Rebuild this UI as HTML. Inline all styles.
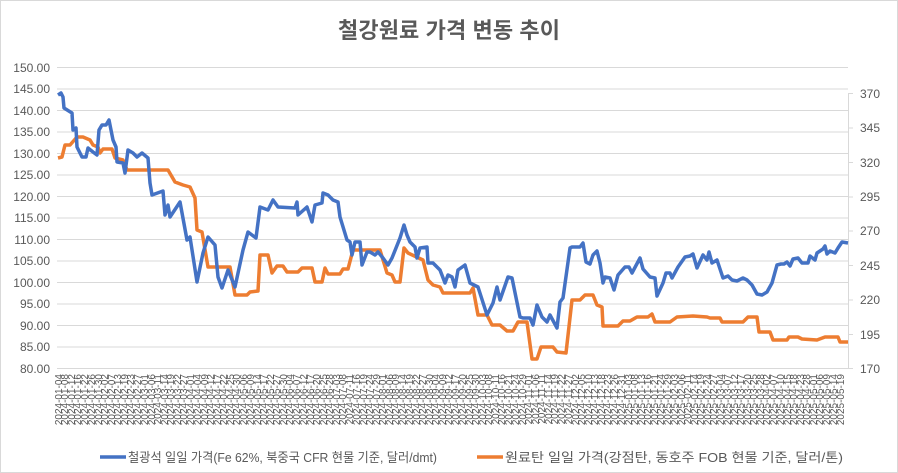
<!DOCTYPE html>
<html><head><meta charset="utf-8"><style>
html,body{margin:0;padding:0;background:#fff}
svg{display:block;font-family:"Liberation Sans","Noto Sans CJK KR",sans-serif}
</style></head><body>
<svg width="898" height="473" viewBox="0 0 898 473" xmlns="http://www.w3.org/2000/svg">
<rect x="0.5" y="0.5" width="897" height="472" fill="#fff" stroke="#d9d9d9"/>
<text x="449" y="38" text-anchor="middle" font-size="22" font-weight="bold" fill="#595959" textLength="222" font-family="'Liberation Sans','Noto Sans CJK KR',sans-serif">철강원료 가격 변동 추이</text>
<g stroke="#d9d9d9" stroke-width="1">
<line x1="57" x2="848" y1="67.5" y2="67.5"/><line x1="57" x2="848" y1="89" y2="89"/><line x1="57" x2="848" y1="110.5" y2="110.5"/><line x1="57" x2="848" y1="132" y2="132"/><line x1="57" x2="848" y1="153.5" y2="153.5"/><line x1="57" x2="848" y1="175" y2="175"/><line x1="57" x2="848" y1="196.5" y2="196.5"/><line x1="57" x2="848" y1="218" y2="218"/><line x1="57" x2="848" y1="239.5" y2="239.5"/><line x1="57" x2="848" y1="261" y2="261"/><line x1="57" x2="848" y1="282.5" y2="282.5"/><line x1="57" x2="848" y1="304" y2="304"/><line x1="57" x2="848" y1="325.5" y2="325.5"/><line x1="57" x2="848" y1="347" y2="347"/><line x1="57" x2="848" y1="368.5" y2="368.5"/>
<line x1="848.5" x2="848.5" y1="93" y2="369"/>
<line x1="848" x2="853" y1="93.5" y2="93.5"/><line x1="848" x2="853" y1="128" y2="128"/><line x1="848" x2="853" y1="162.5" y2="162.5"/><line x1="848" x2="853" y1="197" y2="197"/><line x1="848" x2="853" y1="231" y2="231"/><line x1="848" x2="853" y1="265.5" y2="265.5"/><line x1="848" x2="853" y1="300" y2="300"/><line x1="848" x2="853" y1="334.5" y2="334.5"/><line x1="848" x2="853" y1="368.5" y2="368.5"/>
</g>
<g font-size="12" fill="#595959" text-anchor="end">
<text x="50" y="72">150.00</text><text x="50" y="93">145.00</text><text x="50" y="115">140.00</text><text x="50" y="136">135.00</text><text x="50" y="158">130.00</text><text x="50" y="179">125.00</text><text x="50" y="201">120.00</text><text x="50" y="222">115.00</text><text x="50" y="244">110.00</text><text x="50" y="265">105.00</text><text x="50" y="287">100.00</text><text x="50" y="308">95.00</text><text x="50" y="330">90.00</text><text x="50" y="351">85.00</text><text x="50" y="373">80.00</text>
</g>
<g font-size="12" fill="#595959">
<text x="860" y="98">370</text><text x="860" y="132">345</text><text x="860" y="167">320</text><text x="860" y="201">295</text><text x="860" y="235">270</text><text x="860" y="270">245</text><text x="860" y="304">220</text><text x="860" y="339">195</text><text x="860" y="373">170</text>
</g>
<g font-size="10" fill="#595959" text-anchor="end">
<text transform="translate(62,374) rotate(-90)">2024-01-04</text>
<text transform="translate(68,374) rotate(-90)">2024-01-08</text>
<text transform="translate(75,374) rotate(-90)">2024-01-12</text>
<text transform="translate(81,374) rotate(-90)">2024-01-16</text>
<text transform="translate(88,374) rotate(-90)">2024-01-22</text>
<text transform="translate(95,374) rotate(-90)">2024-01-26</text>
<text transform="translate(102,374) rotate(-90)">2024-01-30</text>
<text transform="translate(108,374) rotate(-90)">2024-02-02</text>
<text transform="translate(115,374) rotate(-90)">2024-02-07</text>
<text transform="translate(121,374) rotate(-90)">2024-02-13</text>
<text transform="translate(128,374) rotate(-90)">2024-02-19</text>
<text transform="translate(134,374) rotate(-90)">2024-02-23</text>
<text transform="translate(141,374) rotate(-90)">2024-02-27</text>
<text transform="translate(148,374) rotate(-90)">2024-03-01</text>
<text transform="translate(155,374) rotate(-90)">2024-03-06</text>
<text transform="translate(161,374) rotate(-90)">2024-03-11</text>
<text transform="translate(168,374) rotate(-90)">2024-03-14</text>
<text transform="translate(174,374) rotate(-90)">2024-03-19</text>
<text transform="translate(181,374) rotate(-90)">2024-03-22</text>
<text transform="translate(187,374) rotate(-90)">2024-03-27</text>
<text transform="translate(194,374) rotate(-90)">2024-04-01</text>
<text transform="translate(201,374) rotate(-90)">2024-04-04</text>
<text transform="translate(208,374) rotate(-90)">2024-04-09</text>
<text transform="translate(214,374) rotate(-90)">2024-04-12</text>
<text transform="translate(221,374) rotate(-90)">2024-04-17</text>
<text transform="translate(227,374) rotate(-90)">2024-04-22</text>
<text transform="translate(234,374) rotate(-90)">2024-04-25</text>
<text transform="translate(240,374) rotate(-90)">2024-04-30</text>
<text transform="translate(247,374) rotate(-90)">2024-05-06</text>
<text transform="translate(254,374) rotate(-90)">2024-05-09</text>
<text transform="translate(261,374) rotate(-90)">2024-05-14</text>
<text transform="translate(267,374) rotate(-90)">2024-05-17</text>
<text transform="translate(274,374) rotate(-90)">2024-05-22</text>
<text transform="translate(280,374) rotate(-90)">2024-05-27</text>
<text transform="translate(287,374) rotate(-90)">2024-05-30</text>
<text transform="translate(293,374) rotate(-90)">2024-06-04</text>
<text transform="translate(300,374) rotate(-90)">2024-06-07</text>
<text transform="translate(307,374) rotate(-90)">2024-06-12</text>
<text transform="translate(314,374) rotate(-90)">2024-06-17</text>
<text transform="translate(320,374) rotate(-90)">2024-06-20</text>
<text transform="translate(327,374) rotate(-90)">2024-06-25</text>
<text transform="translate(333,374) rotate(-90)">2024-06-28</text>
<text transform="translate(340,374) rotate(-90)">2024-07-03</text>
<text transform="translate(346,374) rotate(-90)">2024-07-08</text>
<text transform="translate(353,374) rotate(-90)">2024-07-11</text>
<text transform="translate(360,374) rotate(-90)">2024-07-16</text>
<text transform="translate(367,374) rotate(-90)">2024-07-19</text>
<text transform="translate(373,374) rotate(-90)">2024-07-24</text>
<text transform="translate(380,374) rotate(-90)">2024-07-29</text>
<text transform="translate(386,374) rotate(-90)">2024-08-01</text>
<text transform="translate(393,374) rotate(-90)">2024-08-06</text>
<text transform="translate(399,374) rotate(-90)">2024-08-09</text>
<text transform="translate(406,374) rotate(-90)">2024-08-14</text>
<text transform="translate(413,374) rotate(-90)">2024-08-19</text>
<text transform="translate(420,374) rotate(-90)">2024-08-22</text>
<text transform="translate(426,374) rotate(-90)">2024-08-27</text>
<text transform="translate(433,374) rotate(-90)">2024-08-30</text>
<text transform="translate(439,374) rotate(-90)">2024-09-04</text>
<text transform="translate(446,374) rotate(-90)">2024-09-09</text>
<text transform="translate(452,374) rotate(-90)">2024-09-12</text>
<text transform="translate(459,374) rotate(-90)">2024-09-17</text>
<text transform="translate(466,374) rotate(-90)">2024-09-20</text>
<text transform="translate(473,374) rotate(-90)">2024-09-25</text>
<text transform="translate(479,374) rotate(-90)">2024-09-30</text>
<text transform="translate(486,374) rotate(-90)">2024-10-03</text>
<text transform="translate(492,374) rotate(-90)">2024-10-08</text>
<text transform="translate(499,374) rotate(-90)">2024-10-11</text>
<text transform="translate(505,374) rotate(-90)">2024-10-16</text>
<text transform="translate(512,374) rotate(-90)">2024-10-21</text>
<text transform="translate(519,374) rotate(-90)">2024-10-24</text>
<text transform="translate(526,374) rotate(-90)">2024-10-29</text>
<text transform="translate(532,374) rotate(-90)">2024-11-01</text>
<text transform="translate(539,374) rotate(-90)">2024-11-06</text>
<text transform="translate(545,374) rotate(-90)">2024-11-11</text>
<text transform="translate(552,374) rotate(-90)">2024-11-14</text>
<text transform="translate(558,374) rotate(-90)">2024-11-19</text>
<text transform="translate(565,374) rotate(-90)">2024-11-22</text>
<text transform="translate(572,374) rotate(-90)">2024-11-27</text>
<text transform="translate(579,374) rotate(-90)">2024-12-02</text>
<text transform="translate(585,374) rotate(-90)">2024-12-05</text>
<text transform="translate(592,374) rotate(-90)">2024-12-10</text>
<text transform="translate(598,374) rotate(-90)">2024-12-13</text>
<text transform="translate(605,374) rotate(-90)">2024-12-18</text>
<text transform="translate(611,374) rotate(-90)">2024-12-23</text>
<text transform="translate(618,374) rotate(-90)">2024-12-26</text>
<text transform="translate(625,374) rotate(-90)">2024-12-31</text>
<text transform="translate(632,374) rotate(-90)">2025-01-03</text>
<text transform="translate(638,374) rotate(-90)">2025-01-08</text>
<text transform="translate(645,374) rotate(-90)">2025-01-13</text>
<text transform="translate(651,374) rotate(-90)">2025-01-16</text>
<text transform="translate(658,374) rotate(-90)">2025-01-21</text>
<text transform="translate(664,374) rotate(-90)">2025-01-24</text>
<text transform="translate(671,374) rotate(-90)">2025-01-29</text>
<text transform="translate(678,374) rotate(-90)">2025-02-03</text>
<text transform="translate(685,374) rotate(-90)">2025-02-06</text>
<text transform="translate(691,374) rotate(-90)">2025-02-11</text>
<text transform="translate(698,374) rotate(-90)">2025-02-14</text>
<text transform="translate(704,374) rotate(-90)">2025-02-19</text>
<text transform="translate(711,374) rotate(-90)">2025-02-24</text>
<text transform="translate(717,374) rotate(-90)">2025-02-27</text>
<text transform="translate(724,374) rotate(-90)">2025-03-04</text>
<text transform="translate(731,374) rotate(-90)">2025-03-07</text>
<text transform="translate(738,374) rotate(-90)">2025-03-12</text>
<text transform="translate(744,374) rotate(-90)">2025-03-17</text>
<text transform="translate(751,374) rotate(-90)">2025-03-20</text>
<text transform="translate(757,374) rotate(-90)">2025-03-25</text>
<text transform="translate(764,374) rotate(-90)">2025-03-28</text>
<text transform="translate(770,374) rotate(-90)">2025-04-02</text>
<text transform="translate(777,374) rotate(-90)">2025-04-07</text>
<text transform="translate(784,374) rotate(-90)">2025-04-10</text>
<text transform="translate(791,374) rotate(-90)">2025-04-15</text>
<text transform="translate(797,374) rotate(-90)">2025-04-18</text>
<text transform="translate(804,374) rotate(-90)">2025-04-23</text>
<text transform="translate(810,374) rotate(-90)">2025-04-28</text>
<text transform="translate(817,374) rotate(-90)">2025-05-01</text>
<text transform="translate(823,374) rotate(-90)">2025-05-06</text>
<text transform="translate(830,374) rotate(-90)">2025-05-09</text>
<text transform="translate(837,374) rotate(-90)">2025-05-14</text>
<text transform="translate(844,374) rotate(-90)">2025-05-19</text>
</g>
<polyline fill="none" stroke="#ed7d31" stroke-width="3.5" stroke-linejoin="round" points="58,158 62,157 65,145 70,145 77,137 83,137 90,140 93,145 98,147 100,153 103,149 112,149 115,158 123,160 127,170 168,170 175,182 183,185 190,187 195,198 197,230 202,232 208,267 230,267 235,295 247,295 250,292 258,291 260,255 268,255 272,273 277,266 283,266 287,272 298,272 302,268 312,268 315,282 322,282 325,268 328,274 340,274 343,269 348,269 353,250 380,250 387,273 392,275 395,282 400,282 404,248 408,253 423,260 428,280 433,285 440,287 443,293 470,293 473,288 478,315 487,315 492,325 500,325 507,331 513,331 518,322 527,322 532,359 537,359 541,347 553,347 557,352 566,353 572,300 580,300 585,295 593,295 597,305 602,307 603,326 618,326 623,321 630,321 637,317 648,317 652,314 655,322 670,322 677,317 693,316 707,317 710,318 720,318 722,322 743,322 748,317 757,317 759,332 770,332 773,340 787,340 789,337 798,337 802,339 817,340 825,337 838,337 840,342 848,342"/>
<polyline fill="none" stroke="#4472c4" stroke-width="3.5" stroke-linejoin="round" points="58,95 61,93 63,97 64,108 72,113 73,130 76,128 77,147 82,157 86,157 88,148 93,152 97,155 99,130 102,125 106,125 109,120 113,140 116,147 117,162 123,163 125,173 128,150 133,153 137,157 142,153 148,158 150,183 152,195 163,191 165,215 168,205 170,217 180,202 187,240 190,237 197,282 203,253 208,237 215,245 218,277 222,288 228,270 235,287 243,250 248,232 256,238 260,207 268,210 273,200 278,207 295,208 297,202 298,215 307,207 312,222 315,205 322,203 323,193 328,195 333,200 338,202 340,217 347,240 350,242 352,255 355,242 360,242 362,265 367,252 370,252 375,255 378,252 383,258 388,265 392,258 400,238 404,225 407,235 410,242 415,247 417,258 420,248 427,247 428,263 433,263 440,270 445,283 448,275 452,277 455,287 458,270 465,265 470,283 478,287 487,315 493,303 497,287 500,300 508,277 512,278 520,317 523,318 530,318 533,325 537,305 542,317 547,322 550,315 557,328 560,302 563,298 570,248 572,247 580,247 583,243 586,262 590,264 593,255 597,251 600,263 603,283 605,277 610,278 614,290 618,275 625,267 629,267 632,273 640,258 643,269 650,277 655,278 657,296 663,283 666,273 670,273 672,278 678,267 685,257 690,256 693,254 697,268 703,255 707,260 709,252 712,263 717,260 723,278 728,276 732,280 737,281 743,278 747,280 752,285 757,294 762,295 767,292 772,283 777,265 781,264 784,264 787,262 790,266 793,259 798,258 802,263 808,263 810,256 815,260 817,253 823,249 825,246 827,254 830,251 835,253 838,248 842,242 848,243"/>
<line x1="100" x2="126" y1="457" y2="457" stroke="#4472c4" stroke-width="3.5"/>
<text x="128" y="462" font-size="13" fill="#595959" textLength="309" lengthAdjust="spacingAndGlyphs">철광석 일일 가격(Fe 62%, 북중국 CFR 현물 기준, 달러/dmt)</text>
<line x1="477" x2="503" y1="457" y2="457" stroke="#ed7d31" stroke-width="3.5"/>
<text x="505" y="462" font-size="13" fill="#595959" textLength="338" lengthAdjust="spacingAndGlyphs">원료탄 일일 가격(강점탄, 동호주 FOB 현물 기준, 달러/톤)</text>
</svg>
</body></html>
